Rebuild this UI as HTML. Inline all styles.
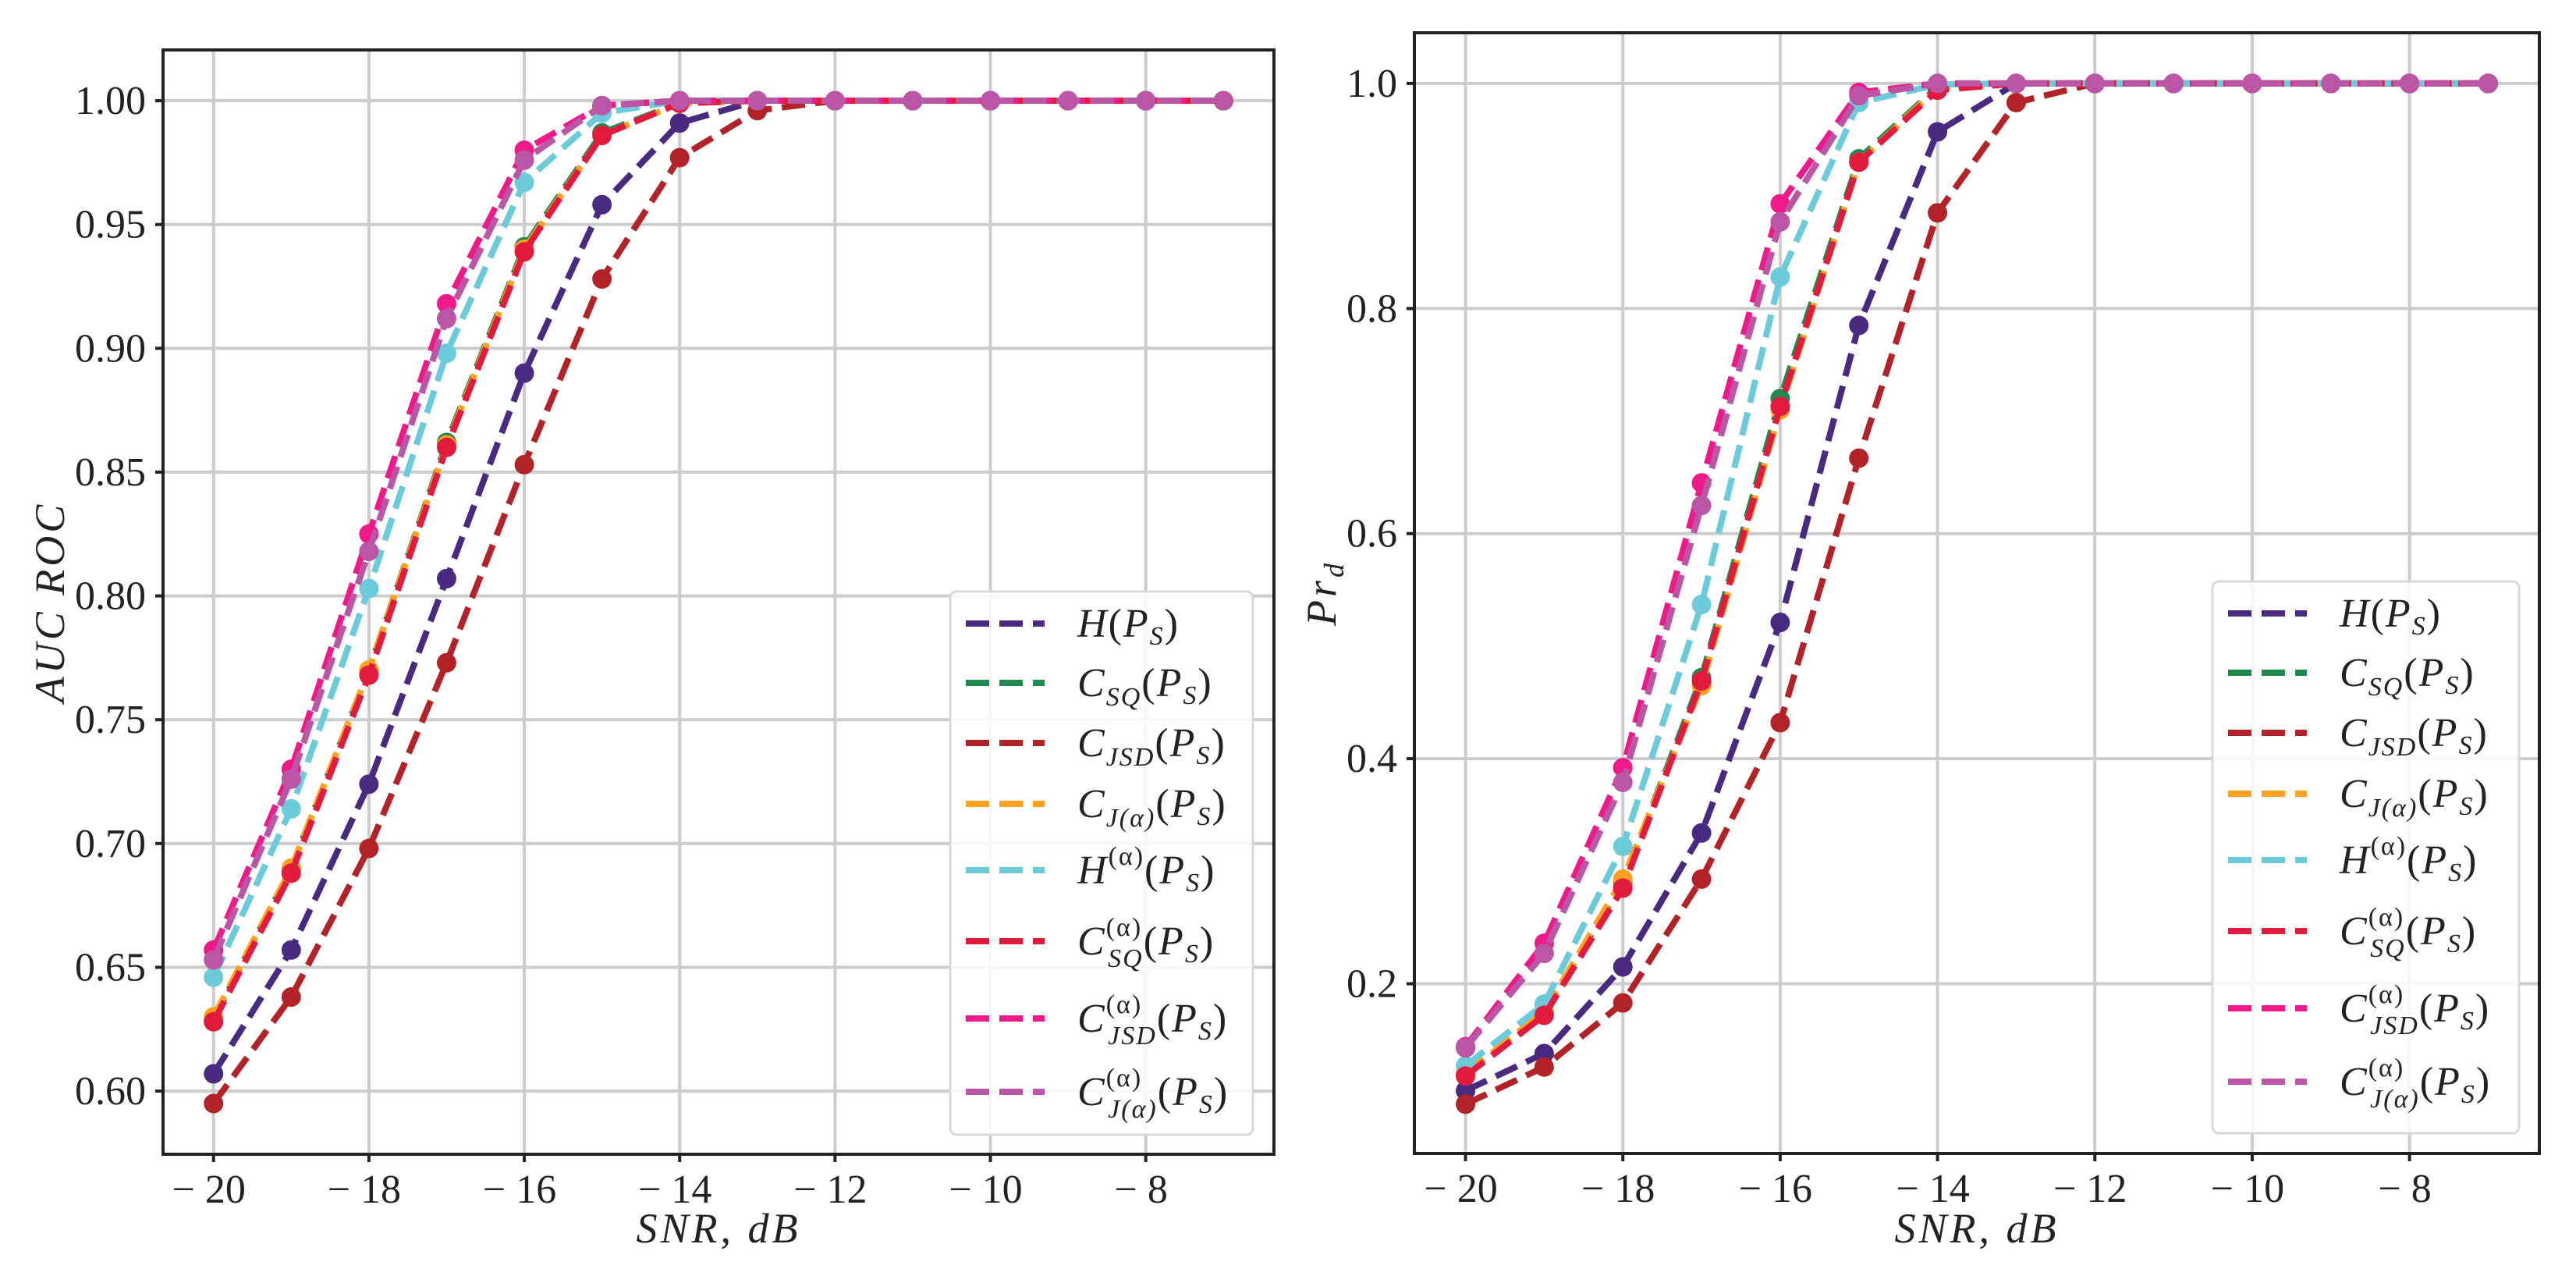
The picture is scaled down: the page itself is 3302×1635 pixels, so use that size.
<!DOCTYPE html>
<html><head><meta charset="utf-8"><style>
html,body{margin:0;padding:0;background:#fff;}
svg{display:block;font-family:"Liberation Serif",serif;}
</style></head><body>
<svg id="fig" width="3302" height="1635" viewBox="0 0 3302 1635" xmlns="http://www.w3.org/2000/svg"></svg>
<script>
const snr = [-20,-19,-18,-17,-16,-15,-14,-13,-12,-11,-10,-9,-8,-7];
const seriesNames = ["H","CSQ","CJSD","CJ","Ha","CSQa","CJSDa","CJa"];
const seriesColors = ["#4a2a80","#1f8a4c","#b22226","#ffa020","#6bcbdb","#e21b3c","#ee1a8a","#bb55a6"];
// AUC ROC values (left panel)
const aucH    = [0.607,0.657,0.724,0.807,0.890,0.958,0.991,1,1,1,1,1,1,1];
const aucCSQ  = [0.629,0.690,0.770,0.862,0.941,0.987,0.999,1,1,1,1,1,1,1];
const aucCJSD = [0.595,0.638,0.698,0.773,0.853,0.928,0.977,0.996,1,1,1,1,1,1];
const aucCJ   = [0.630,0.690,0.770,0.861,0.940,0.986,0.999,1,1,1,1,1,1,1];
const aucHa   = [0.646,0.714,0.803,0.898,0.967,0.995,1,1,1,1,1,1,1,1];
const aucCSQa = [0.628,0.688,0.768,0.860,0.939,0.986,0.999,1,1,1,1,1,1,1];
const aucCJSDa= [0.657,0.730,0.825,0.918,0.980,0.998,1,1,1,1,1,1,1,1];
const aucCJa  = [0.653,0.726,0.818,0.912,0.976,0.998,1,1,1,1,1,1,1,1];
// Pr_d values (right panel)
const prH    = [0.105,0.138,0.215,0.334,0.521,0.785,0.957,1,1,1,1,1,1,1];
const prCSQ  = [0.120,0.175,0.290,0.472,0.720,0.933,0.997,1,1,1,1,1,1,1];
const prCJSD = [0.093,0.126,0.183,0.293,0.432,0.667,0.885,0.983,1,1,1,1,1,1];
const prCJ   = [0.120,0.175,0.293,0.465,0.710,0.930,0.996,1,1,1,1,1,1,1];
const prHa   = [0.127,0.182,0.322,0.537,0.828,0.983,0.999,1,1,1,1,1,1,1];
const prCSQa = [0.118,0.172,0.285,0.469,0.713,0.930,0.994,1,1,1,1,1,1,1];
const prCJSDa= [0.144,0.236,0.392,0.645,0.893,0.992,1,1,1,1,1,1,1,1];
const prCJa  = [0.143,0.227,0.379,0.625,0.877,0.989,1,1,1,1,1,1,1,1];
const xTicks = [-20,-18,-16,-14,-12,-10,-8];
const aucTicks = [0.60,0.65,0.70,0.75,0.80,0.85,0.90,0.95,1.00];
const prTicks = [0.2,0.4,0.6,0.8,1.0];

const NS="http://www.w3.org/2000/svg";
const svg=document.getElementById('fig');
function mk(tag,attrs,parent){const e=document.createElementNS(NS,tag);for(const k in attrs)e.setAttribute(k,attrs[k]);(parent||svg).appendChild(e);return e;}

const legendDefs=[["H","",""],["C","SQ",""],["C","JSD",""],["C","J(α)",""],["H","","(α)"],["C","SQ","(α)"],["C","JSD","(α)"],["C","J(α)","(α)"]];

function panel(p){
  const g=mk('g',{});
  
  
  const X=v=>p.x0+(v-p.xmin)/(p.xmax-p.xmin)*(p.x1-p.x0);
  const Y=v=>p.y1-(v-p.ymin)/(p.ymax-p.ymin)*(p.y1-p.y0);
  xTicks.forEach(t=>{const l=mk('line',{x1:X(t),x2:X(t),y1:p.y0,y2:p.y1,stroke:'#cccccc','stroke-width':4},g);
    });
  p.yticks.forEach(t=>{const l=mk('line',{x1:p.x0,x2:p.x1,y1:Y(t),y2:Y(t),stroke:'#cccccc','stroke-width':4},g);
    });
  p.data.forEach((d,i)=>{
    const sg=mk('g',{},g);
    
    
    const pts=d.map((v,j)=>X(snr[j]).toFixed(1)+','+Y(v).toFixed(1)).join(' ');
    mk('polyline',{points:pts,fill:'none',stroke:seriesColors[i],'stroke-width':8,'stroke-dasharray':'30 13'},sg);
    d.forEach((v,j)=>{const c=mk('circle',{cx:X(snr[j]),cy:Y(v),r:12.5,fill:seriesColors[i]},sg);
      });
  });
  const r=mk('rect',{x:p.x0,y:p.y0,width:p.x1-p.x0,height:p.y1-p.y0,fill:'none',stroke:'#222','stroke-width':4},g);
  
  xTicks.forEach(t=>{mk('line',{x1:X(t),x2:X(t),y1:p.y1,y2:p.y1+10,stroke:'#222','stroke-width':4},g);
    const tx=mk('text',{x:X(t)-6,y:p.y1+62,'font-size':52,'text-anchor':'middle',fill:'#222'},g);
    tx.textContent=(t<0?'− ':'')+Math.abs(t);
    });
  p.yticks.forEach(t=>{mk('line',{x1:p.x0-10,x2:p.x0,y1:Y(t),y2:Y(t),stroke:'#222','stroke-width':4},g);
    const tx=mk('text',{x:p.x0-22,y:Y(t)+17,'font-size':52,'text-anchor':'end',fill:'#222'},g);
    tx.textContent=t.toFixed(p.dec);
    });
  const xl=mk('text',{x:(p.x0+p.x1)/2,y:1592,'font-size':54,'font-style':'italic','text-anchor':'middle',fill:'#222','letter-spacing':4},g);
  xl.textContent='SNR,  dB';
  
  const yl=mk('text',{x:0,y:0,'font-size':54,'font-style':'italic','text-anchor':'middle',fill:'#222','letter-spacing':4,transform:`translate(${p.ylx},${(p.y0+p.y1)/2}) rotate(-90)`},g);
  if(p.ylabelSub){yl.textContent=p.ylabel;const s=mk('tspan',{'font-size':36,dy:10},yl);s.textContent=p.ylabelSub;}
  else yl.textContent=p.ylabel;
  
  const lg=mk('g',{},g);
  
  mk('rect',{x:p.lx,y:p.ly,width:p.lw,height:p.lh,rx:8,fill:'#fff','fill-opacity':0.85,stroke:'#d8d8d8','stroke-width':3},lg);
  const rows=[41,117,194,272,357,448,547,641];
  legendDefs.forEach((ld,i)=>{
    const cy=p.ly+rows[i];
    const e=mk('g',{},lg);
    
    mk('line',{x1:p.lx+20,x2:p.lx+121,y1:cy,y2:cy,stroke:seriesColors[i],'stroke-width':8,'stroke-dasharray':'30 13'},e);
    const t=mk('text',{x:p.lx+163,y:cy+17,'font-size':52,'font-style':'italic',fill:'#222','letter-spacing':2},e);
    t.appendChild(document.createTextNode(ld[0]));
    if(ld[2]){const s=mk('tspan',{'font-size':34,dy:-24,'font-style':'normal'},t);s.textContent=ld[2];}
    if(ld[1]){const s=mk('tspan',{'font-size':34,dy:ld[2]?40:12},t);
      if(ld[2]) s.setAttribute('dx',-44);
      s.textContent=ld[1];}
    const back=(ld[2]?(ld[1]?-16:24):(ld[1]?-12:0));
    const r2=mk('tspan',{dy:back,'font-style':'normal'},t);r2.textContent='(';
    const r3=mk('tspan',{},t);r3.textContent='P';
    const r4=mk('tspan',{'font-size':34,dy:10},t);r4.textContent='S';
    const r5=mk('tspan',{dy:-10,'font-style':'normal'},t);r5.textContent=')';
  });
}

panel({name:'auc-roc-panel',x0:209,x1:1633,y0:64,y1:1479,xmin:-20.65,xmax:-6.35,ymin:0.5745,ymax:1.0205,
  yticks:aucTicks,dec:2,data:[aucH,aucCSQ,aucCJSD,aucCJ,aucHa,aucCSQa,aucCJSDa,aucCJa],
  ylabel:'AUC ROC',ylx:82,lx:1218,ly:758,lw:388,lh:696});
panel({name:'prd-panel',x0:1813,x1:3255,y0:42,y1:1478,xmin:-20.65,xmax:-6.35,ymin:0.0492,ymax:1.045,
  yticks:prTicks,dec:1,data:[prH,prCSQ,prCJSD,prCJ,prHa,prCSQa,prCJSDa,prCJa],
  ylabel:'Pr',ylabelSub:'d',ylx:1712,lx:2836,ly:745,lw:393,lh:707});
</script>
</body></html>
